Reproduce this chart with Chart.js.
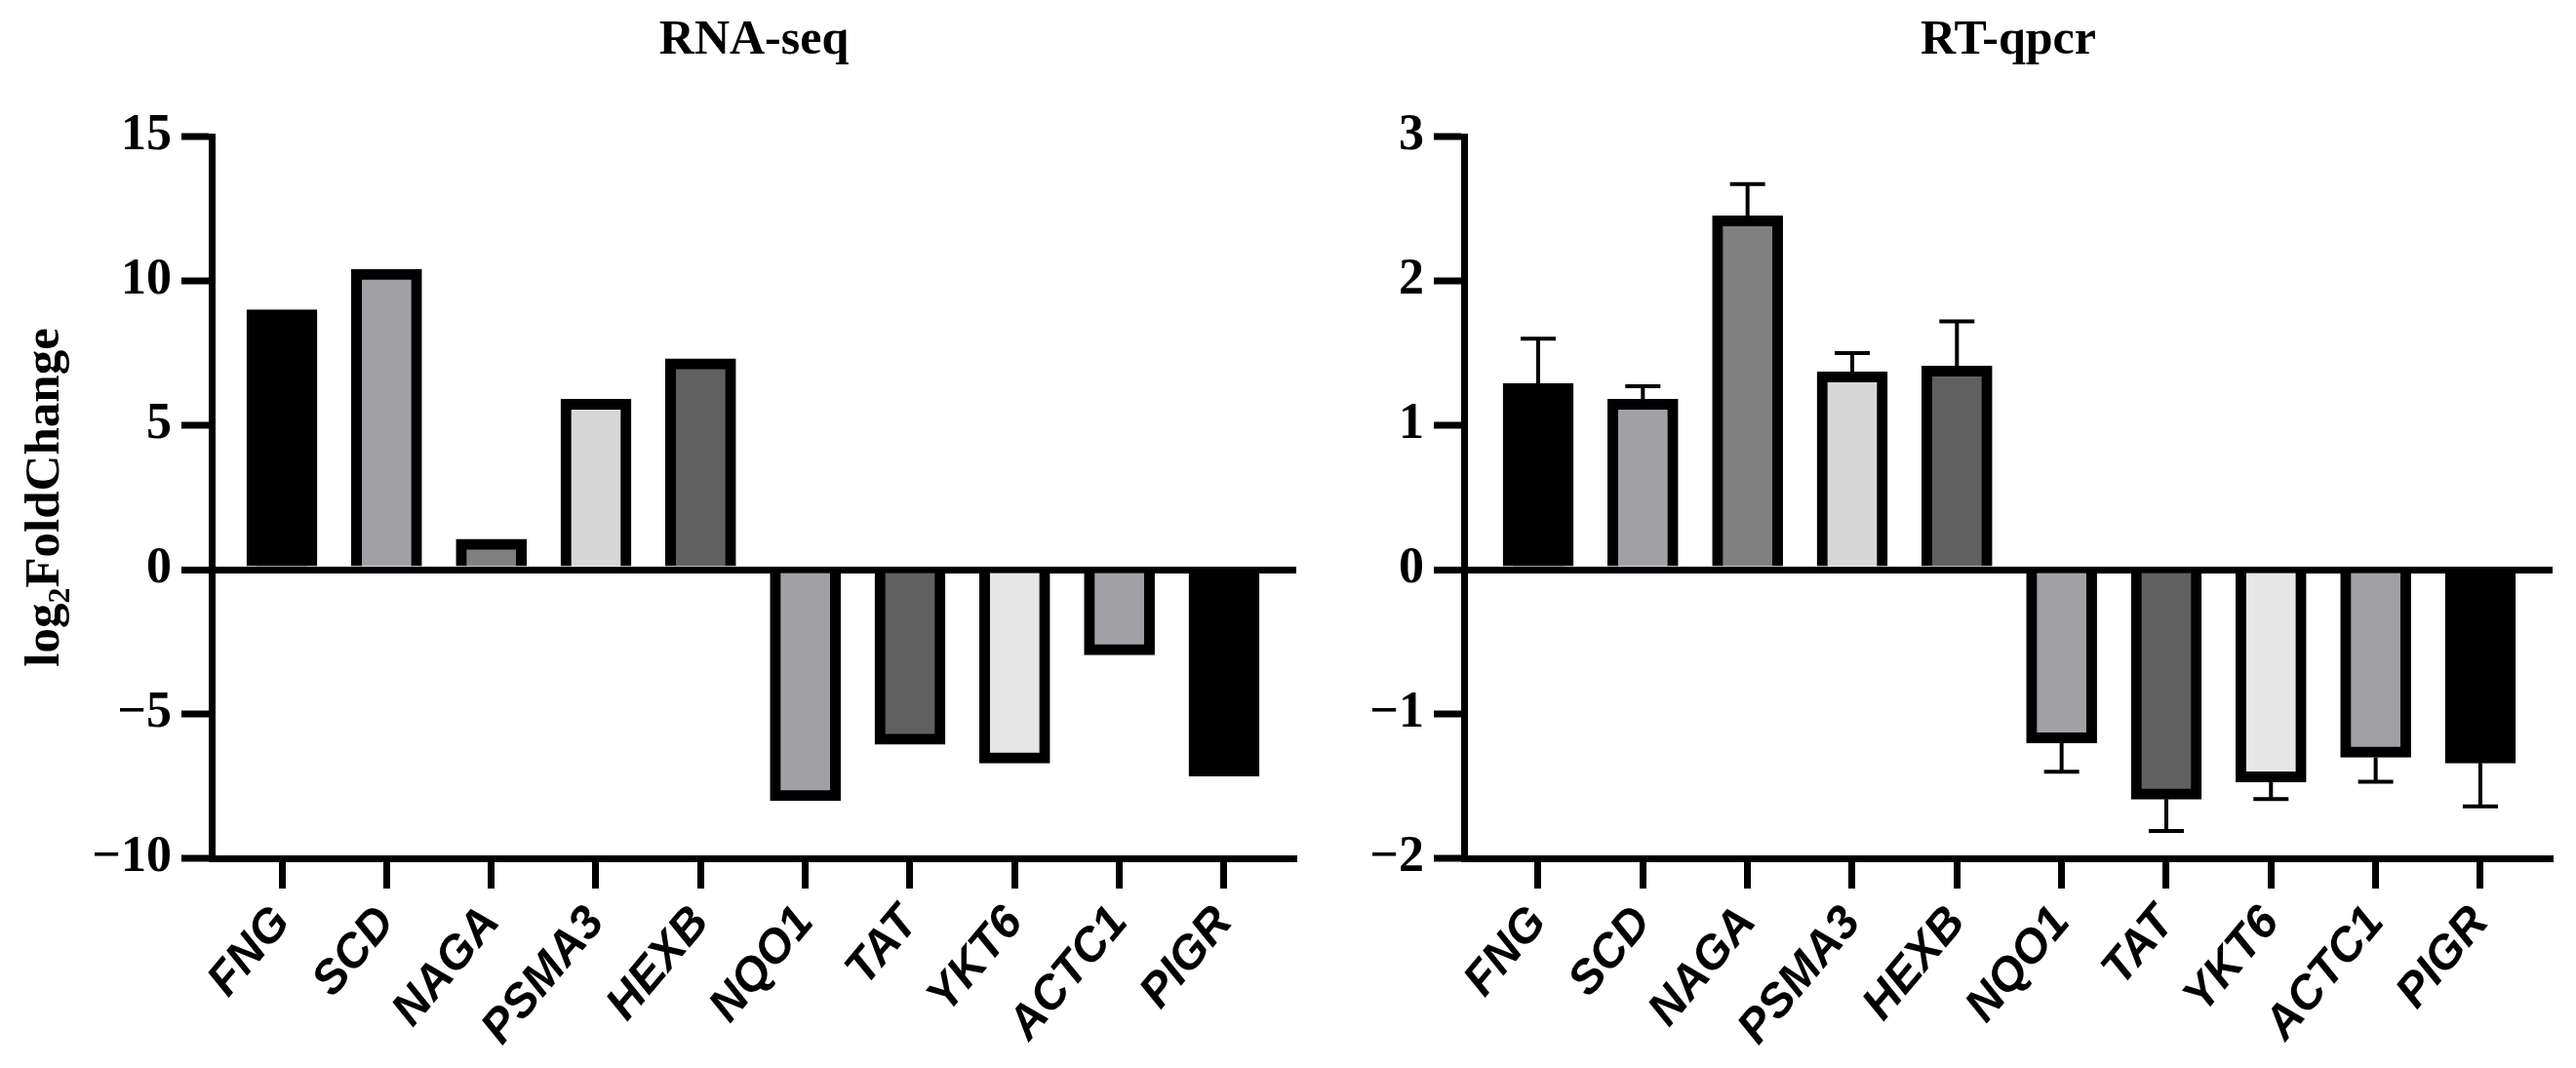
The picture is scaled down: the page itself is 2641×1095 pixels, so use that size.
<!DOCTYPE html>
<html>
<head>
<meta charset="utf-8">
<title>RNA-seq / RT-qpcr</title>
<script src="https://cdn.jsdelivr.net/npm/chart.js@4.4.1/dist/chart.umd.min.js"></script>
<style>
  html, body { margin: 0; padding: 0; background: #fff; }
  #wrap { position: relative; width: 2641px; height: 1095px; overflow: hidden; }
  canvas { position: absolute; top: 0; }
</style>
</head>
<body>
<div id="wrap">
  <canvas id="rnaChart" width="1340" height="1095" style="left:0"></canvas>
  <canvas id="qpcrChart" width="1311" height="1095" style="left:1330px"></canvas>
</div>
<script>
// values
const genes = ['FNG', 'SCD', 'NAGA', 'PSMA3', 'HEXB', 'NQO1', 'TAT', 'YKT6', 'ACTC1', 'PIGR'];
const rnaSeq = [9.0, 10.4, 1.05, 5.9, 7.3, -8.0, -6.05, -6.7, -2.95, -7.15];
const qpcrMean = [1.29, 1.18, 2.45, 1.37, 1.41, -1.20, -1.59, -1.47, -1.30, -1.34];
const qpcrErr = [0.31, 0.09, 0.22, 0.13, 0.31, 0.20, 0.22, 0.12, 0.17, 0.30];
const rnaTicks = [-10, -5, 0, 5, 10, 15];
const qpcrTicks = [-2, -1, 0, 1, 2, 3];
const barColors = ['#000000', '#a1a0a5', '#808080', '#d6d6d6', '#606060',
                   '#a1a0a5', '#606060', '#e6e6e6', '#a1a0a5', '#000000'];

const serif = '"Liberation Serif", "Times New Roman", serif';
const sans = '"Liberation Sans", Arial, sans-serif';

// error bars (one-sided, away from zero) + titles
const panelText = {
    id: 'panelText',
    afterDatasetsDraw(chart) {
        const errs = chart.options.plugins.panelText.errors;
        if (!errs) return;
        const ctx = chart.ctx;
        const y = chart.scales.y;
        const vals = chart.data.datasets[0].data;
        ctx.save();
        ctx.strokeStyle = '#000';
        ctx.lineWidth = 4;
        chart.getDatasetMeta(0).data.forEach((bar, i) => {
            const v = vals[i].y;
            const end = v + (v >= 0 ? errs[i] : -errs[i]);
            const y0 = y.getPixelForValue(v);
            const y1 = y.getPixelForValue(end);
            ctx.beginPath();
            ctx.moveTo(bar.x, y0);
            ctx.lineTo(bar.x, y1);
            ctx.moveTo(bar.x - 18, y1);
            ctx.lineTo(bar.x + 18, y1);
            ctx.stroke();
        });
        ctx.restore();
    },
    afterDraw(chart) {
        const opts = chart.options.plugins.panelText;
        const ctx = chart.ctx;
        const area = chart.chartArea;
        ctx.save();
        ctx.fillStyle = '#000';
        ctx.font = 'bold 50px ' + serif;
        ctx.textAlign = 'center';
        ctx.textBaseline = 'alphabetic';
        ctx.fillText(opts.title, (area.left + area.right) / 2, 55);

        if (opts.yTitle) {
            const big = 'bold 51px ' + serif;
            const small = 'bold 32px ' + serif;
            ctx.translate(60, (area.top + area.bottom) / 2);
            ctx.rotate(-Math.PI / 2);
            ctx.textAlign = 'left';
            ctx.font = big;
            const w1 = ctx.measureText('log').width;
            const w3 = ctx.measureText('FoldChange').width;
            ctx.font = small;
            const w2 = ctx.measureText('2').width;
            let x = -(w1 + w2 + w3) / 2;
            ctx.font = big;
            ctx.fillText('log', x, 0);
            x += w1;
            ctx.font = small;
            ctx.fillText('2', x, 11);
            x += w2;
            ctx.font = big;
            ctx.fillText('FoldChange', x, 0);
        }
        ctx.restore();
    }
};

function makePanel(id, title, values, errors, yTicks, axisWidth, padRight, xMin, xMax, showYTitle) {
    const ctx = document.getElementById(id).getContext('2d');
    return new Chart(ctx, {
        type: 'bar',
        data: {
            datasets: [{
                data: genes.map((g, i) => ({ x: i, y: values[i] })),
                backgroundColor: barColors,
                borderColor: '#000',
                borderWidth: 11,
                barThickness: 72
            }]
        },
        plugins: [panelText],
        options: {
            responsive: false,
            animation: false,
            events: [],
            layout: { padding: { top: 140, right: padRight, left: 0, bottom: 0 } },
            plugins: {
                legend: { display: false },
                tooltip: { enabled: false },
                title: { display: false },
                panelText: { title: title, errors: errors, yTitle: showYTitle }
            },
            scales: {
                x: {
                    type: 'linear',
                    min: xMin,
                    max: xMax,
                    offset: false,
                    afterBuildTicks: (scale) => { scale.ticks = genes.map((g, i) => ({ value: i })); },
                    afterFit: (scale) => { scale.height = 215; },
                    border: { display: true, color: '#000', width: 7 },
                    grid: {
                        offset: false,
                        drawOnChartArea: false,
                        drawTicks: true,
                        tickLength: 31,
                        tickWidth: 7,
                        tickColor: '#000',
                        color: '#000'
                    },
                    ticks: {
                        autoSkip: false,
                        maxRotation: 50,
                        minRotation: 50,
                        padding: 8,
                        color: '#000',
                        font: { family: sans, size: 48, weight: 'bold', style: 'italic' },
                        callback: (v) => genes[v]
                    }
                },
                y: {
                    min: yTicks[0],
                    max: yTicks[yTicks.length - 1],
                    z: 1,
                    afterBuildTicks: (scale) => { scale.ticks = yTicks.map(v => ({ value: v })); },
                    afterFit: (scale) => { scale.width = axisWidth; },
                    border: { display: true, color: '#000', width: 7 },
                    grid: {
                        drawOnChartArea: true,
                        drawTicks: true,
                        tickLength: 31,
                        tickWidth: 7,
                        tickColor: '#000',
                        color: (c) => (c.tick && c.tick.value === 0 ? '#000' : 'rgba(0,0,0,0)'),
                        lineWidth: (c) => (c.tick && c.tick.value === 0 ? 7 : 0)
                    },
                    ticks: {
                        padding: 10,
                        color: '#000',
                        font: { family: serif, size: 52, weight: 'bold' },
                        callback: (v) => (v < 0 ? '\u2212' + Math.abs(v) : String(v))
                    }
                }
            }
        }
    });
}

makePanel('rnaChart', 'RNA-seq', rnaSeq, null, rnaTicks, 217, 11, -0.671, 9.69, true);
makePanel('qpcrChart', 'RT-qpcr', qpcrMean, qpcrErr, qpcrTicks, 171, 24, -0.708, 9.69, false);
</script>
</body>
</html>
